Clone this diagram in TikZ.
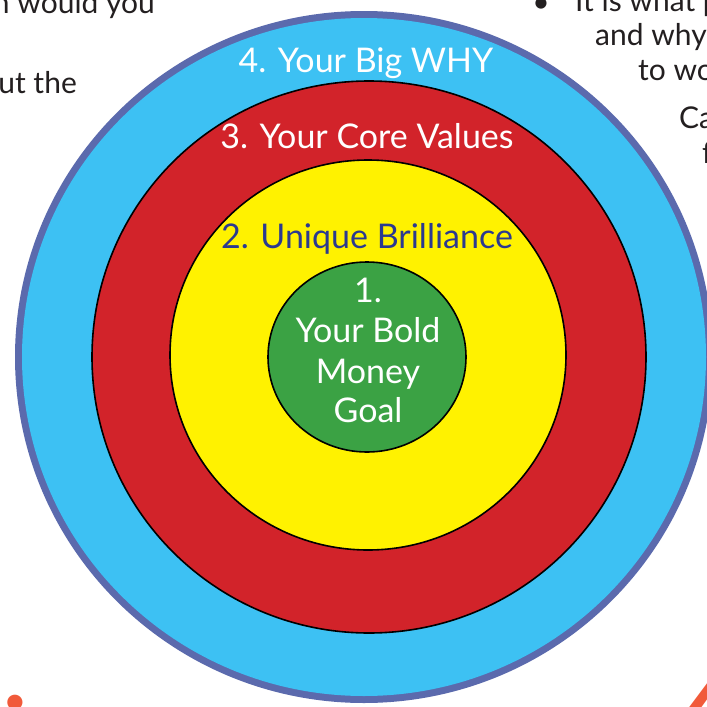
\documentclass[tikz,border=0pt]{standalone}
\usepackage{fontspec}
\setmainfont{Lato}
\definecolor{ringblue}{HTML}{3DC1F3}
\definecolor{ringborder}{HTML}{5B6AAD}
\definecolor{ringred}{HTML}{D2232A}
\definecolor{ringyellow}{HTML}{FFF200}
\definecolor{ringgreen}{HTML}{3BA244}
\definecolor{labelblue}{HTML}{2B3990}
\definecolor{bodytext}{HTML}{231F20}
\definecolor{numorange}{HTML}{F15A3A}
\begin{document}
\begin{tikzpicture}[x=1pt,y=-1pt,
  ringlabel/.style={anchor=base,inner sep=0pt,font=\fontsize{34}{40}\selectfont},
  bgtext/.style={inner sep=0pt,text=bodytext,font=\fontsize{30}{36}\selectfont},
  bignum/.style={inner sep=0pt,text=numorange,font=\fontsize{100}{110}\selectfont\bfseries}]
\useasboundingbox (0,0) rectangle (707,707);
\clip (0,0) rectangle (707,707);
% background text fragments
\node[bgtext,anchor=base east] (t1) at (155,13) {n would you};
\node[bgtext,anchor=base east] (t2) at (77,93) {ut the};
\node[bgtext,anchor=base] (bul) at (541,12) {•};
\node[bgtext,anchor=base west] (r1) at (575,11) {It is what p};
\node[bgtext,anchor=base west] (r2) at (595,45) {and why};
\node[bgtext,anchor=base west] (r3) at (638,80) {to wo};
\node[bgtext,anchor=base west] (r4) at (679,128) {Ca};
\node[bgtext,anchor=base west] (r5) at (702,163) {f};
\node[bignum,anchor=base east] (n3) at (27,709) {3.};
\node[bignum,anchor=base west] (n4) at (678,748) {4};
% rings
\fill[ringborder] (364,357) ellipse [x radius=349, y radius=346];
\fill[ringblue] (364,357) ellipse [x radius=342, y radius=339];
\filldraw[fill=ringred,draw=black,line width=1.6pt] (369,357) ellipse [x radius=277, y radius=276];
\filldraw[fill=ringyellow,draw=black,line width=1.6pt] (368,355) ellipse [x radius=198, y radius=195];
\filldraw[fill=ringgreen,draw=black,line width=1.6pt] (367,357) ellipse [x radius=99, y radius=95];
% labels
\node[ringlabel,text=white] (l4) at (366,72) {4. Your Big WHY};
\node[ringlabel,text=white] (l3) at (367,148) {3. Your Core Values};
\node[ringlabel,text=labelblue] (l2) at (367,248) {2. Unique Brilliance};
\node[ringlabel,text=white] (l1a) at (368,302) {1.};
\node[ringlabel,text=white] (l1b) at (368,342) {Your Bold};
\node[ringlabel,text=white] (l1c) at (368,383) {Money};
\node[ringlabel,text=white] (l1d) at (368,422) {Goal};
\end{tikzpicture}
\end{document}
